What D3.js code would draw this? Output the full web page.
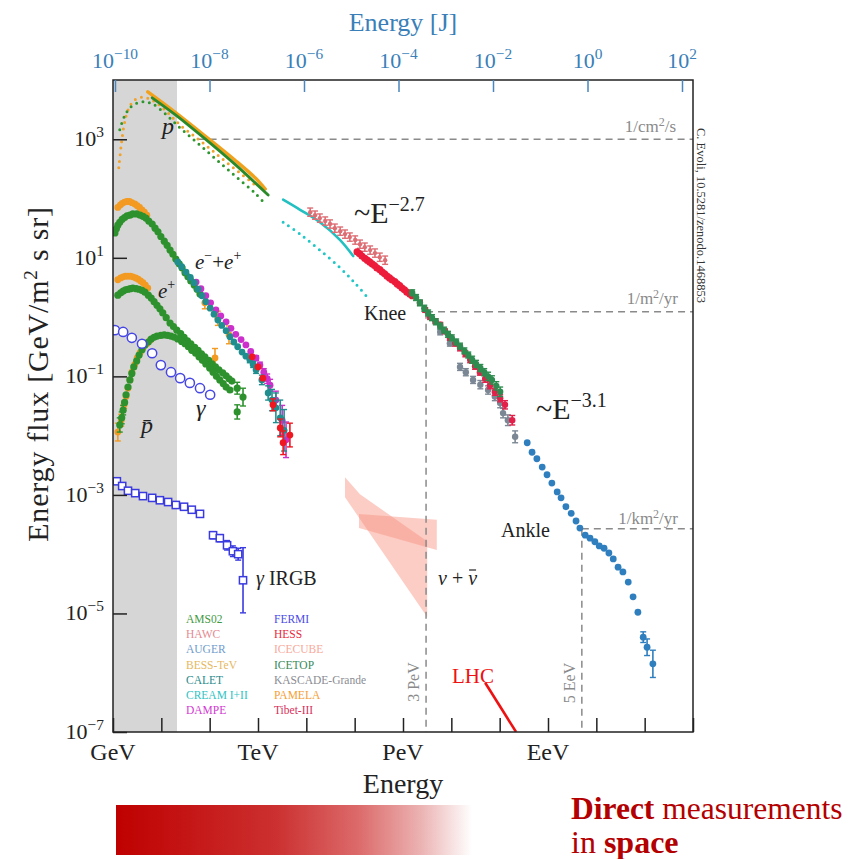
<!DOCTYPE html>
<html>
<head>
<meta charset="utf-8">
<script src="https://cdn.jsdelivr.net/npm/d3@7"></script>
<style>
  body { margin: 0; background: #fff; }
  svg text { font-family: "Liberation Serif", "Times New Roman", serif; }
</style>
</head>
<body>
<div id="chart"></div>
<script>
// all values are [log10(E / GeV), log10(flux), optional error in dex]

// protons
const protonPamelaLine = [[0.72,3.80],[1.28,3.46],[1.90,3.06],[2.52,2.65],[2.94,2.35],[3.15,2.16]];
const protonAmsLine = [[0.81,3.70],[1.28,3.42],[1.90,3.01],[2.52,2.58],[3.21,2.06]];
const protonBessDotted = [[0.12,2.52],[0.17,2.90],[0.23,3.24],[0.31,3.49],[0.43,3.65],[0.60,3.71],[0.81,3.66],[1.08,3.49],[1.39,3.24],[1.70,3.04],[2.01,2.84],[2.32,2.63],[2.63,2.43],[2.94,2.23]];
const protonAmsDotted = [[0.14,3.16],[0.25,3.41],[0.39,3.56],[0.60,3.63],[0.81,3.60],[1.08,3.43],[1.39,3.19],[1.70,2.97],[2.01,2.75],[2.32,2.53],[2.63,2.31],[2.94,2.09],[3.17,1.89]];
const creamLine = [[3.52,1.98],[3.87,1.81],[4.28,1.60],[4.70,1.30],[4.97,1.03]];
const creamDotted = [[3.52,1.60],[3.87,1.40],[4.28,1.13],[4.70,0.83],[5.01,0.57],[5.28,0.32]];

// all-particle
const hawc = [[4.08,1.77,0.07],[4.18,1.72,0.07],[4.28,1.67,0.07],[4.39,1.62,0.07],[4.49,1.57,0.07],[4.59,1.50,0.07],[4.70,1.45,0.07],[4.80,1.40,0.07],[4.90,1.35,0.07],[5.01,1.30,0.07],[5.11,1.23,0.07],[5.21,1.18,0.07],[5.32,1.13,0.07],[5.42,1.08,0.07],[5.52,1.01,0.07],[5.63,0.96,0.07]];
const hessAll = [[5.05,1.10],[5.10,1.07],[5.15,1.03],[5.21,0.99],[5.26,0.96],[5.31,0.93],[5.36,0.90],[5.41,0.87],[5.46,0.83],[5.52,0.80],[5.57,0.76],[5.62,0.73],[5.67,0.69],[5.72,0.66],[5.77,0.63],[5.83,0.60],[5.88,0.56],[5.93,0.53],[5.98,0.49],[6.03,0.46],[6.08,0.42],[6.14,0.39],[6.19,0.36]];
const icetop = [[6.19,0.41,0.05],[6.27,0.33,0.05],[6.35,0.24,0.05],[6.44,0.15,0.05],[6.52,0.07,0.05],[6.60,-0.01,0.05],[6.68,-0.08,0.05],[6.77,-0.15,0.05],[6.85,-0.22,0.05],[6.93,-0.29,0.05],[7.01,-0.35,0.05],[7.10,-0.42,0.05],[7.18,-0.49,0.05],[7.27,-0.57,0.05],[7.35,-0.64,0.05],[7.43,-0.72,0.06],[7.51,-0.79,0.06],[7.60,-0.86,0.06],[7.68,-0.93,0.06],[7.76,-1.00,0.07],[7.84,-1.06,0.07],[7.93,-1.16,0.07],[8.01,-1.26,0.08]];
const kascade = [[6.77,-0.25,0.05],[6.97,-0.44,0.05],[7.18,-0.84,0.06],[7.30,-0.93,0.06],[7.45,-1.06,0.06],[7.60,-1.14,0.07],[7.76,-1.23,0.07],[7.90,-1.34,0.07],[8.01,-1.45,0.08],[8.07,-1.62,0.08],[8.17,-1.74,0.09],[8.32,-2.02,0.1]];
const tibet = [[6.35,0.24,0.04],[6.46,0.12,0.04],[6.56,0.00,0.04],[6.67,-0.07,0.04],[6.77,-0.13,0.04],[6.87,-0.24,0.04],[6.97,-0.35,0.04],[7.08,-0.44,0.05],[7.18,-0.52,0.05],[7.29,-0.62,0.05],[7.39,-0.72,0.05],[7.49,-0.83,0.05],[7.59,-0.93,0.05],[7.70,-1.04,0.06],[7.80,-1.15,0.06],[7.90,-1.26,0.06],[8.01,-1.37,0.06],[8.11,-1.48,0.07],[8.26,-1.74,0.08]];
const auger = [[8.57,-2.12],[8.67,-2.28],[8.77,-2.39],[8.88,-2.53],[8.98,-2.66],[9.08,-2.80],[9.19,-2.95],[9.27,-3.05],[9.37,-3.20],[9.48,-3.31],[9.58,-3.44],[9.66,-3.56],[9.77,-3.68],[9.87,-3.73],[9.97,-3.79],[10.06,-3.86],[10.16,-3.90],[10.26,-3.98],[10.35,-4.08],[10.45,-4.22],[10.55,-4.30],[10.66,-4.47],[10.76,-4.72],[10.86,-4.98],[10.97,-5.40,0.09],[11.05,-5.57,0.14],[11.17,-5.85,0.23]];

// electrons + positrons
const elecAms = [[0.04,1.42],[0.07,1.49],[0.10,1.55],[0.14,1.60],[0.19,1.65],[0.24,1.68],[0.29,1.71],[0.35,1.72],[0.41,1.74],[0.49,1.74],[0.56,1.72],[0.62,1.70],[0.68,1.67],[0.74,1.62],[0.81,1.57],[0.87,1.50],[0.93,1.44],[0.99,1.36],[1.06,1.28],[1.12,1.21],[1.18,1.13],[1.24,1.06],[1.30,0.98],[1.37,0.90],[1.43,0.83],[1.49,0.75],[1.55,0.68],[1.61,0.61],[1.68,0.54],[1.74,0.47],[1.80,0.39]];
const elecBess = [[0.10,1.85],[0.15,1.89],[0.19,1.92],[0.24,1.94],[0.29,1.95],[0.34,1.95],[0.39,1.93],[0.45,1.91],[0.50,1.88],[0.55,1.85],[0.60,1.81],[0.65,1.77],[0.70,1.72],[1.90,0.24,0.1],[2.17,-0.02,0.12],[2.40,-0.30,0.15]];
const elecCalet = [[1.34,0.93],[1.42,0.85],[1.51,0.76],[1.60,0.67],[1.68,0.58],[1.76,0.47],[1.84,0.36],[1.92,0.26],[2.01,0.15],[2.09,0.05],[2.17,-0.05],[2.25,-0.14],[2.34,-0.23],[2.42,-0.33],[2.50,-0.42],[2.58,-0.50],[2.67,-0.59],[2.75,-0.66],[2.83,-0.72,0.05],[2.90,-0.80,0.05],[2.96,-0.89,0.06],[3.08,-1.06,0.08],[3.21,-1.28,0.12],[3.29,-1.40,0.18],[3.37,-1.53,0.25],[3.46,-1.70,0.3],[3.54,-1.91,0.35]];
const elecDampe = [[1.72,0.59],[1.82,0.48],[1.92,0.36],[2.02,0.24],[2.13,0.12],[2.23,0.02],[2.34,-0.08],[2.44,-0.19],[2.54,-0.29],[2.65,-0.38],[2.75,-0.47],[2.85,-0.58],[2.96,-0.69,0.04],[3.04,-0.81,0.05],[3.12,-0.93,0.06],[3.19,-1.04,0.08],[3.25,-1.15,0.1],[3.37,-1.40,0.15],[3.50,-1.74,0.25],[3.58,-2.07,0.3]];
const elecHess = [[2.88,-0.67],[3.00,-0.84],[3.10,-1.03],[3.31,-1.48,0.1],[3.46,-1.87,0.15],[3.52,-2.12,0.2],[3.66,-1.99,0.2]];

// positrons
const posPamela = [[0.10,0.63],[0.16,0.66],[0.21,0.68],[0.26,0.69],[0.31,0.69],[0.36,0.69],[0.41,0.68],[0.47,0.66],[0.52,0.64],[0.57,0.61],[0.62,0.58],[0.67,0.54],[0.72,0.49],[2.11,-0.69,0.16]];
const posAms = [[0.10,0.37],[0.16,0.41],[0.21,0.44],[0.26,0.46],[0.31,0.47],[0.36,0.48],[0.41,0.49],[0.48,0.48],[0.54,0.47],[0.60,0.45],[0.66,0.42],[0.73,0.37],[0.79,0.32],[0.85,0.26],[0.91,0.20],[0.97,0.14],[1.03,0.07],[1.10,-0.01],[1.18,-0.10],[1.25,-0.16],[1.32,-0.22],[1.40,-0.28],[1.47,-0.34],[1.54,-0.40],[1.61,-0.45],[1.69,-0.51],[1.76,-0.56],[1.83,-0.62],[1.90,-0.67],[1.98,-0.73],[2.05,-0.79],[2.12,-0.84],[2.19,-0.89],[2.27,-0.94],[2.34,-0.99],[2.40,-1.04],[2.46,-1.08],[2.57,-1.20,0.1],[2.69,-1.35,0.15]];

// antiprotons
const pbarAms = [[0.14,-1.82,0.12],[0.18,-1.70,0.1],[0.21,-1.57,0.08],[0.24,-1.44],[0.27,-1.31],[0.31,-1.18],[0.35,-1.06],[0.39,-0.95],[0.43,-0.84],[0.49,-0.74],[0.54,-0.64],[0.60,-0.55],[0.66,-0.47],[0.73,-0.42],[0.79,-0.37],[0.85,-0.34],[0.91,-0.32],[0.99,-0.31],[1.06,-0.30],[1.13,-0.31],[1.20,-0.32],[1.27,-0.34],[1.34,-0.37],[1.42,-0.41],[1.49,-0.45],[1.56,-0.50],[1.63,-0.56],[1.71,-0.61],[1.78,-0.67],[1.85,-0.73],[1.92,-0.79],[2.00,-0.86],[2.07,-0.93],[2.14,-1.00],[2.21,-1.06],[2.28,-1.12],[2.34,-1.18],[2.42,-1.23],[2.57,-1.60,0.12]];
const pbarPamela = [[0.10,-1.94,0.15],[0.17,-1.74,0.1],[0.23,-1.48,0.06],[0.27,-1.34],[0.31,-1.20],[0.35,-1.06],[0.39,-0.93],[0.45,-0.80],[0.50,-0.69],[0.56,-0.60],[0.62,-0.52],[0.70,-0.45],[0.77,-0.39]];

// gamma rays
const gammaFermi = [[0.04,-0.22],[0.21,-0.25],[0.39,-0.35],[0.60,-0.45],[0.81,-0.61],[0.99,-0.81],[1.20,-0.93],[1.39,-1.03],[1.59,-1.11],[1.80,-1.20],[2.01,-1.31]];
const irgbFermi = [[0.08,-2.77,0.04],[0.19,-2.85,0.04],[0.31,-2.93,0.04],[0.46,-2.97,0.04],[0.62,-3.02,0.04],[0.81,-3.05,0.04],[0.97,-3.09,0.04],[1.14,-3.12,0.04],[1.30,-3.17,0.04],[1.47,-3.20,0.04],[1.63,-3.25,0.04],[1.80,-3.32,0.05],[2.07,-3.68,0.06],[2.21,-3.73,0.06],[2.36,-3.85,0.08],[2.48,-3.95,0.09],[2.59,-4.00,0.1],[2.69,-4.44,0.55]];

// neutrino bands (outlines)
const nuBandA = [[4.80,-2.70],[5.11,-2.99],[6.50,-3.78],[6.50,-5.06],[4.80,-3.04]];
const nuBandB = [[5.09,-3.32],[6.70,-3.42],[6.70,-3.93],[5.09,-3.56]];

// LHC line
const lhcLine = [[7.70,-6.17],[8.34,-7.0]];

// reference levels
const refLevels = [
  {label: "1/cm", unit: "/s", from: 1.75, flux: 3.0},
  {label: "1/m", unit: "/yr", from: 6.477, flux: 0.09},
  {label: "1/km", unit: "/yr", from: 9.70, flux: -3.57}
];
const markerLines = [{label: "3 PeV", at: 6.477, flux: 0.09}, {label: "5 EeV", at: 9.70, flux: -3.57}];

const yTicks = [3, 1, -1, -3, -5, -7];
const xTicks = d3.range(0, 13);
const xNamed = [[0, "GeV"], [3, "TeV"], [6, "PeV"], [9, "EeV"]];
const jTicks = [-10, -8, -6, -4, -2, 0, 2];

const legendLeft = [["AMS02", "#3f9a3f"], ["HAWC", "#e58a90"], ["AUGER", "#6f9ccc"], ["BESS-TeV", "#e6b860"], ["CALET", "#2a8c8c"], ["CREAM I+II", "#2fc4c4"], ["DAMPE", "#d23ad2"]];
const legendRight = [["FERMI", "#4a4ae6"], ["HESS", "#e8283c"], ["ICECUBE", "#f7aa9c"], ["ICETOP", "#3a8a5a"], ["KASCADE-Grande", "#8a8c92"], ["PAMELA", "#f5a035"], ["Tibet-III", "#d8305a"]];

const W = 851, H = 859;
const svg = d3.select("#chart").append("svg").attr("width", W).attr("height", H);

const x = d3.scaleLog().domain([1, 1e12]).range([113, 693]);
const y = d3.scaleLog().domain([1e-7, 1e4]).range([732, 80]);
const xJ = d3.scaleLog().domain([1e-10, 1e2]).range([115, 682]);
const px = d => x(10 ** d[0]);
const py = d => y(10 ** d[1]);

const defs = svg.append("defs");
defs.append("clipPath").attr("id", "plotclip")
  .append("rect").attr("x", 113).attr("y", 80).attr("width", 580).attr("height", 652);

// gray direct-measurement band
svg.append("rect")
  .attr("x", x(1)).attr("y", y(1e4))
  .attr("width", x(10 ** 1.324) - x(1)).attr("height", y(1e-7) - y(1e4))
  .attr("fill", "#d6d6d6");

const plot = svg.append("g").attr("clip-path", "url(#plotclip)");

// neutrino bands
[nuBandA, nuBandB].forEach(b => {
  plot.append("path")
    .attr("d", d3.line().x(px).y(py)(b) + "Z")
    .attr("fill", "#f8907e").attr("opacity", 0.45);
});

// reference dashed lines
const gray = "#8a8a8a";
refLevels.forEach(r => {
  plot.append("line")
    .attr("x1", x(10 ** r.from)).attr("x2", x(1e12))
    .attr("y1", y(10 ** r.flux)).attr("y2", y(10 ** r.flux))
    .attr("stroke", gray).attr("stroke-width", 1.5).attr("stroke-dasharray", "7,5");
});
markerLines.forEach(m => {
  plot.append("line")
    .attr("x1", x(10 ** m.at)).attr("x2", x(10 ** m.at))
    .attr("y1", y(10 ** m.flux)).attr("y2", y(1e-7))
    .attr("stroke", gray).attr("stroke-width", 1.5).attr("stroke-dasharray", "7,5");
});

const line = d3.line().x(px).y(py).curve(d3.curveCatmullRom);

function drawLine(data, color, width, dotted) {
  plot.append("path").attr("d", line(data))
    .attr("fill", "none").attr("stroke", color)
    .attr("stroke-width", width)
    .attr("stroke-linecap", "round")
    .attr("stroke-dasharray", dotted ? "0,6.5" : null);
}

function drawPoints(data, color, r, opts) {
  opts = opts || {};
  const g = plot.append("g");
  data.filter(d => d[2]).forEach(d => {
    const lo = y(10 ** (d[1] - d[2])), hi = y(10 ** (d[1] + d[2]));
    const cx = px(d);
    g.append("line").attr("x1", cx).attr("x2", cx).attr("y1", lo).attr("y2", hi)
      .attr("stroke", color).attr("stroke-width", 1.6);
    [lo, hi].forEach(v => g.append("line").attr("x1", cx - 3).attr("x2", cx + 3)
      .attr("y1", v).attr("y2", v).attr("stroke", color).attr("stroke-width", 1.4));
  });
  if (opts.square) {
    g.selectAll("rect").data(data).join("rect")
      .attr("x", d => px(d) - r).attr("y", d => py(d) - r)
      .attr("width", 2 * r).attr("height", 2 * r)
      .attr("fill", "#fff").attr("stroke", color).attr("stroke-width", 1.5);
  } else {
    g.selectAll("circle").data(data).join("circle")
      .attr("cx", px).attr("cy", py).attr("r", r)
      .attr("fill", opts.open ? "#fff" : color)
      .attr("stroke", opts.open ? color : "none")
      .attr("stroke-width", 1.5);
  }
}

// protons
drawLine(protonBessDotted, "#f2a12a", 3, true);
drawLine(protonAmsDotted, "#2e962e", 3, true);
drawLine(protonPamelaLine, "#f2a11c", 3.4);
drawLine(protonAmsLine, "#2a8a2a", 2.8);
drawLine(creamDotted, "#22c6c6", 3, true);
drawLine(creamLine, "#22c0c0", 2.6);

// all-particle
drawPoints(hawc, "#dd6e74", 2.2);
drawPoints(hessAll, "#ec1c3a", 3.6);
drawPoints(kascade, "#7b8794", 3.2);
drawPoints(tibet, "#e2204a", 3.2);
drawPoints(icetop, "#2f8c50", 3.2);
drawPoints(auger, "#2f7fbf", 3.4);

// electrons and positrons
drawPoints(elecBess, "#f39a22", 3.4);
drawPoints(elecAms, "#2d922d", 3.6);
drawPoints(elecDampe, "#cc2fcc", 3.4);
drawPoints(elecCalet, "#208e8e", 3.4);
drawPoints(elecHess, "#f01820", 3.4);
drawPoints(posPamela, "#f39a22", 3.4);
drawPoints(posAms, "#2d922d", 3.6);

// antiprotons
drawPoints(pbarPamela, "#f39a22", 3.4);
drawPoints(pbarAms, "#2d922d", 3.6);

// gamma rays
drawPoints(gammaFermi, "#4646e4", 4.6, {open: true});
drawPoints(irgbFermi, "#3a3ae0", 3.6, {square: true});

// LHC
plot.append("path").attr("d", d3.line().x(px).y(py)(lhcLine))
  .attr("stroke", "#ee1111").attr("stroke-width", 2.6).attr("fill", "none");

// frame
svg.append("rect").attr("x", 113).attr("y", 80).attr("width", 580).attr("height", 652)
  .attr("fill", "none").attr("stroke", "#222").attr("stroke-width", 1.5);

// axes
const yAxis = svg.append("g").attr("transform", "translate(113,0)")
  .call(d3.axisLeft(y).tickValues(yTicks.map(v => 10 ** v)).tickSize(-14).tickFormat(""));
const xAxis = svg.append("g").attr("transform", "translate(0,732)")
  .call(d3.axisBottom(x).tickValues(xTicks.map(v => 10 ** v)).tickSize(-14).tickFormat(""));
const topAxis = svg.append("g").attr("transform", "translate(0,80)")
  .call(d3.axisTop(xJ).tickValues(jTicks.map(v => 10 ** v)).tickSize(-12).tickFormat(""));
[yAxis, xAxis].forEach(a => {
  a.select(".domain").remove();
  a.selectAll(".tick line").attr("stroke", "#222").attr("stroke-width", 1.5);
});
topAxis.select(".domain").remove();
topAxis.selectAll(".tick line").attr("stroke", "#4a86bd").attr("stroke-width", 1.5);

function supText(g, xx, yy, base, sup, size, anchor, color) {
  const t = g.append("text").attr("x", xx).attr("y", yy)
    .attr("font-size", size).attr("text-anchor", anchor).attr("fill", color);
  t.append("tspan").text(base);
  t.append("tspan").text(sup).attr("dy", -size * 0.42).attr("font-size", size * 0.7);
  return t;
}

yTicks.forEach(v => {
  supText(svg, 104, y(10 ** v) + 7, "10", v < 0 ? "\u2212" + (-v) : String(v), 22, "end", "#222");
});
jTicks.forEach(v => {
  supText(svg, xJ(10 ** v), 68, "10", v < 0 ? "\u2212" + (-v) : String(v), 22, "middle", "#3b7fb8");
});
xNamed.forEach(([v, s]) => {
  svg.append("text").attr("x", x(10 ** v)).attr("y", 760)
    .attr("text-anchor", "middle").attr("font-size", 24).attr("fill", "#222").text(s);
});

svg.append("text").attr("x", 403).attr("y", 793).attr("text-anchor", "middle")
  .attr("font-size", 28).attr("fill", "#222").text("Energy");
svg.append("text").attr("x", 403).attr("y", 31).attr("text-anchor", "middle")
  .attr("font-size", 26).attr("fill", "#3b7fb8").text("Energy [J]");

const yl = svg.append("text").attr("transform", "translate(48,374) rotate(-90)")
  .attr("text-anchor", "middle").attr("font-size", 30).attr("letter-spacing", 0.8).attr("fill", "#222");
yl.append("tspan").text("Energy flux [GeV/m");
yl.append("tspan").text("2").attr("dy", -11).attr("font-size", 19);
yl.append("tspan").text(" s sr]").attr("dy", 11);

// credit
svg.append("text").attr("transform", "translate(697,128) rotate(90)")
  .attr("font-size", 12.5).attr("fill", "#333").text("C. Evoli, 10.5281/zenodo.1468853");

// reference level labels
const refLabelPos = [[676, 132], [678, 304], [678, 524]];
refLevels.forEach((r, i) => {
  const t = svg.append("text").attr("x", refLabelPos[i][0]).attr("y", refLabelPos[i][1])
    .attr("text-anchor", "end").attr("font-size", 17).attr("fill", gray);
  t.append("tspan").text(r.label);
  t.append("tspan").text("2").attr("dy", -6).attr("font-size", 12);
  t.append("tspan").text(r.unit).attr("dy", 6);
});
const markerLabelPos = [[419, 682], [575, 683]];
markerLines.forEach((m, i) => {
  svg.append("text").attr("transform", `translate(${markerLabelPos[i][0]},${markerLabelPos[i][1]}) rotate(-90)`)
    .attr("text-anchor", "middle").attr("font-size", 16).attr("fill", gray).text(m.label);
});

// species labels
function label(xx, yy, size, parts) {
  const t = svg.append("text").attr("x", xx).attr("y", yy).attr("font-size", size).attr("fill", "#222");
  parts.forEach(p => {
    const s = t.append("tspan").text(p.t);
    if (p.i) s.attr("font-style", "italic");
    if (p.dy) s.attr("dy", p.dy);
    if (p.fs) s.attr("font-size", p.fs);
  });
  return t;
}
label(162, 134, 24, [{t: "p", i: 1}]);
label(195, 269, 21, [{t: "e", i: 1}, {t: "\u2212", dy: -9, fs: 14}, {t: "+", dy: 9}, {t: "e", i: 1}, {t: "+", dy: -9, fs: 14}]);
label(158, 298, 21, [{t: "e", i: 1}, {t: "+", dy: -9, fs: 14}]);
label(141, 433, 24, [{t: "p\u0304", i: 1}]);
label(196, 416, 24, [{t: "\u03b3", i: 1}]);
label(256, 585, 20, [{t: "\u03b3", i: 1}, {t: " IRGB"}]);
// neutrino label with a drawn bar over the second nu
const nuText = label(438, 585, 20, [{t: "\u03bd", i: 1}, {t: " + "}, {t: "\u03bd", i: 1}]);
const nuLen = nuText.node().getComputedTextLength();
svg.append("line").attr("x1", 438 + nuLen - 8).attr("x2", 438 + nuLen - 1)
  .attr("y1", 570).attr("y2", 570).attr("stroke", "#222").attr("stroke-width", 1.2);
label(354, 223, 30, [{t: "~E"}, {t: "\u22122.7", dy: -12, fs: 20}]);
label(536, 419, 30, [{t: "~E"}, {t: "\u22123.1", dy: -12, fs: 20}]);
label(364, 320, 20, [{t: "Knee"}]);
label(501, 537, 20, [{t: "Ankle"}]);
svg.append("text").attr("x", 452).attr("y", 683).attr("font-size", 21)
  .attr("fill", "#ee1111").text("LHC");

// legend
[legendLeft, legendRight].forEach((col, ci) => {
  col.forEach(([name, c], i) => {
    svg.append("text").attr("x", ci ? 274 : 186).attr("y", 623 + i * 15.2)
      .attr("font-size", 11.5).attr("fill", c).text(name);
  });
});

// bottom banner
const grad = defs.append("linearGradient").attr("id", "redfade");
[[0, "#bf0000"], [0.45, "#cc3030"], [0.68, "#dc6a6a"], [0.86, "#ecb4b4"], [1, "#ffffff"]]
  .forEach(([o, c]) => grad.append("stop").attr("offset", o).attr("stop-color", c));
svg.append("rect").attr("x", 116).attr("y", 805).attr("width", 356).attr("height", 50)
  .attr("fill", "url(#redfade)");
const d1 = svg.append("text").attr("x", 571).attr("y", 819).attr("font-size", 31.5).attr("fill", "#b30000");
d1.append("tspan").text("Direct").attr("font-weight", "bold");
d1.append("tspan").text(" measurements");
const d2 = svg.append("text").attr("x", 571).attr("y", 853).attr("font-size", 32).attr("fill", "#b30000");
d2.append("tspan").text("in ");
d2.append("tspan").text("space").attr("font-weight", "bold");
</script>
</body>
</html>
